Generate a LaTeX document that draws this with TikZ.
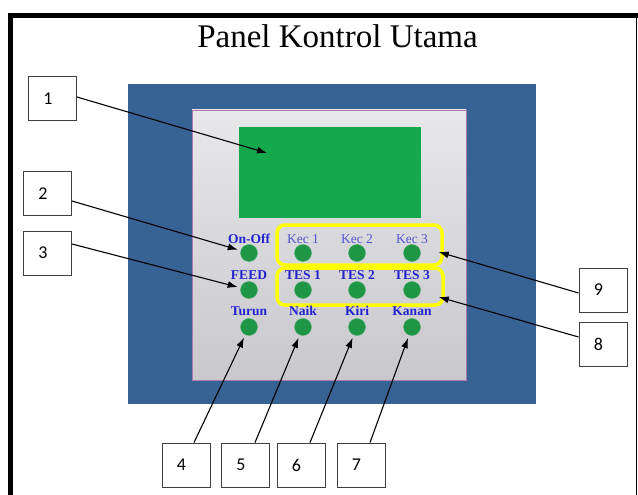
\documentclass[tikz,border=0pt]{standalone}
\usepackage{fontspec}
\setmainfont{Liberation Serif}
\newfontfamily\boxfont{Carlito}
\usetikzlibrary{arrows.meta,calc}
\definecolor{panelblue}{RGB}{54,98,148}
\definecolor{lcdgreen}{RGB}{22,168,76}
\definecolor{ledgreen}{RGB}{30,150,70}
\definecolor{lblblue}{RGB}{35,35,205}
\definecolor{kecblue}{RGB}{85,85,210}
\definecolor{panelrim}{RGB}{175,120,175}
\begin{document}
\begin{tikzpicture}[x=1pt,y=-1pt,
  numbox/.style={draw=black!75,line width=0.9pt,fill=white,minimum width=48pt,minimum height=44pt,inner sep=0pt,font=\boxfont\fontsize{18}{18}\selectfont},
  led/.style={circle,fill=ledgreen,draw=ledgreen!80!white,line width=0.4pt,minimum size=17pt,inner sep=0pt},
  ledlbl/.style={anchor=base,text=lblblue,font=\fontsize{13.5}{14}\selectfont\bfseries,inner sep=0pt},
  keclbl/.style={anchor=base,text=kecblue,font=\fontsize{13.5}{14}\selectfont,inner sep=0pt},
  yelbox/.style={draw={rgb,255:red,255;green,255;blue,0},line width=3.5pt,rounded corners=8pt},
  pointer/.style={draw=black,line width=1.1pt,-{Latex[length=10pt,width=7pt]}}
]
\useasboundingbox (0,0) rectangle (638,495);
\fill[white] (0,0) rectangle (638,495);
% outer frame
\fill[black] (8,13) rectangle (638,18);
\fill[black] (8,13) rectangle (13,495);
\draw[black,line width=1.4pt] (636.5,18) -- (636.5,495);
% title
\node[anchor=base,font=\fontsize{33}{34}\selectfont,inner sep=0pt] (title) at (337.5,48) {Panel Kontrol Utama};
% panel
\fill[panelblue] (128,84) rectangle (536,404);
\shade[top color={rgb,255:red,232;green,232;blue,234},bottom color={rgb,255:red,200;green,200;blue,205},draw=panelrim,line width=0.8pt] (192,110) rectangle (466,380);
\node[fill=lcdgreen,minimum width=182pt,minimum height=91pt,inner sep=0pt] (lcd) at (330,172.5) {};
\coordinate (lcdpt) at (267,153);
% yellow groups
\node[yelbox,minimum width=165pt,minimum height=40pt] (grpkec) at (359.5,245) {};
\node[yelbox,minimum width=166pt,minimum height=37pt] (grptes) at (360,286.5) {};
% LEDs
\foreach \c/\x in {1/249,2/303,3/357,4/412}{
  \node[led] (ra\c) at (\x,253) {};
  \node[led] (rb\c) at (\x,290) {};
  \node[led] (rc\c) at (\x,327) {};
}
% LED labels
\node[ledlbl] (lonoff) at (249,243.5) {On-Off};
\node[keclbl] (lk1) at (303,243.5) {Kec 1};
\node[keclbl] (lk2) at (357,243.5) {Kec 2};
\node[keclbl] (lk3) at (412,243.5) {Kec 3};
\node[ledlbl] (lfeed) at (249,279.5) {FEED};
\node[ledlbl] (lt1) at (303,279.5) {TES 1};
\node[ledlbl] (lt2) at (357,279.5) {TES 2};
\node[ledlbl] (lt3) at (412,279.5) {TES 3};
\node[ledlbl] (lturun) at (249,315.5) {Turun};
\node[ledlbl] (lnaik) at (303,315.5) {Naik};
\node[ledlbl] (lkiri) at (357,315.5) {Kiri};
\node[ledlbl] (lkanan) at (412,315.5) {Kanan};
% number boxes
\node[numbox] (b1) at (52.5,98.5) {\hspace*{-9pt}1};
\node[numbox] (b2) at (47.5,193.5) {\hspace*{-9pt}2};
\node[numbox] (b3) at (47.5,253) {\hspace*{-9pt}3};
\node[numbox] (b4) at (186,465) {\hspace*{-9pt}4};
\node[numbox] (b5) at (245.5,465) {\hspace*{-9pt}5};
\node[numbox] (b6) at (301,465) {\hspace*{-9pt}6};
\node[numbox] (b7) at (361,465) {\hspace*{-9pt}7};
\node[numbox] (b8) at (603,344) {\hspace*{-9pt}8};
\node[numbox] (b9) at (603,290) {\hspace*{-9pt}9};
% pointers
\draw[pointer] ([yshift=1.5pt]b1.east) -- (lcdpt);
\draw[pointer,shorten >=3pt] ([yshift=-7.5pt]b2.east) -- (ra1);
\draw[pointer,shorten >=3pt] ([yshift=9pt]b3.east) -- (rb1);
\draw[pointer,shorten >=3pt] ([xshift=8pt]b4.north) -- (rc1);
\draw[pointer,shorten >=3pt] ([xshift=9.5pt]b5.north) -- (rc2);
\draw[pointer,shorten >=3pt] ([xshift=9pt]b6.north) -- (rc3);
\draw[pointer,shorten >=3pt] ([xshift=9pt]b7.north) -- (rc4);
\draw[pointer] ([yshift=-3pt]b9.west) -- ([xshift=-5pt,yshift=-7pt]grpkec.east);
\draw[pointer] ([yshift=7pt]b8.west) -- ([xshift=-6pt,yshift=-10.5pt]grptes.east);
\end{tikzpicture}
\end{document}
